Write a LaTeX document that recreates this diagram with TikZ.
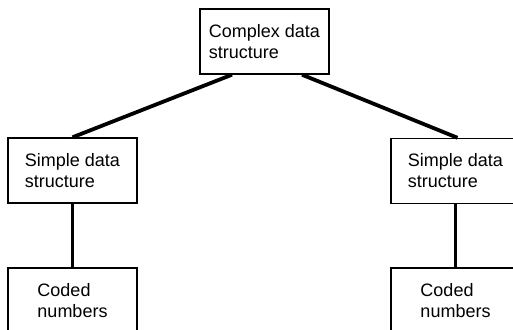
\documentclass[tikz,border=0pt]{standalone}
\usepackage{fontspec}
\setmainfont{Liberation Sans}
\begin{document}
\begin{tikzpicture}[x=1pt,y=-1pt,
  box/.style={draw=black,line width=1.4pt,rectangle,minimum width=129pt,minimum height=65pt,
    align=left,inner sep=0pt,font=\fontsize{18}{21}\selectfont},
  link/.style={line width=3.8pt,black}]
\useasboundingbox (0,0) rectangle (513,329);
\node[box] (top) at (264.5,41.5) {Complex data\\structure};
\node[box] (lm) at (72.5,170.5) {Simple data\\structure};
\node[box] (rm) at (455.5,171) {Simple data\\structure};
\node[box] (lb) at (72.5,300.5) {Coded\\numbers};
\node[box] (rb) at (455.5,300.5) {Coded\\numbers};
\draw[link] ([xshift=-32.5pt]top.south) -- (lm.north);
\draw[link] ([xshift=37.5pt]top.south) -- ([xshift=2pt]rm.north);
\draw[link] (lm.south) -- (lb.north);
\draw[link] (rm.south) -- (rb.north);
\end{tikzpicture}
\end{document}
